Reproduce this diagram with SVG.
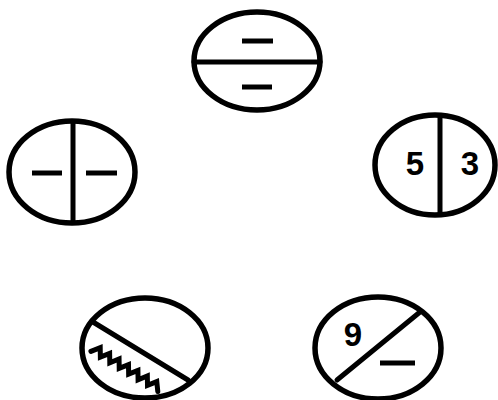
<svg xmlns="http://www.w3.org/2000/svg" width="498" height="400" viewBox="0 0 498 400">
<style>
.o{fill:none;stroke:#000;stroke-width:5.5}
.l{stroke:#000;stroke-width:5;stroke-linecap:round;fill:none}
.d{stroke:#000;stroke-width:5;stroke-linecap:butt}
.t{font-family:"Liberation Sans",Arial,sans-serif;font-weight:bold;font-size:33px;fill:#000;text-anchor:middle}
</style>
<rect width="498" height="400" fill="#fff"/>
<g id="connectors"/>
<g id="top">
<ellipse class="o" cx="257" cy="61" rx="63" ry="49"/>
<line class="l" x1="194" y1="62" x2="320" y2="62"/>
<line class="d" x1="242" y1="41" x2="273" y2="41"/>
<line class="d" x1="242" y1="87" x2="272" y2="87"/>
</g>
<g id="left">
<ellipse class="o" cx="72" cy="172" rx="63" ry="51"/>
<line class="l" x1="73" y1="122" x2="73" y2="222"/>
<line class="d" x1="32" y1="173" x2="62" y2="173"/>
<line class="d" x1="86" y1="173" x2="117" y2="173"/>
</g>
<g id="right">
<ellipse class="o" cx="435" cy="165" rx="60" ry="50"/>
<line class="l" x1="440" y1="116" x2="440" y2="214"/>
<text class="t" x="415" y="175">5</text>
<text class="t" x="470" y="175">3</text>
</g>
<g id="bottom-left">
<ellipse class="o" cx="145" cy="348" rx="63" ry="50"/>
<line class="l" x1="93" y1="322" x2="188" y2="380"/>
<polyline class="l" stroke-width="3.5" transform="translate(93,348) rotate(31)" points="0,4 6,-4 11,4 17,-4 22,4 28,-4 33,4 39,-4 44,4 50,-4 55,4 61,-4 66,4 72,-4 78,4"/>
</g>
<g id="bottom-right">
<ellipse class="o" cx="378" cy="348" rx="63" ry="51"/>
<line class="l" x1="337" y1="380" x2="420" y2="312"/>
<text class="t" x="353" y="346">9</text>
<line class="d" x1="380" y1="363" x2="415" y2="363"/>
</g>
</svg>
